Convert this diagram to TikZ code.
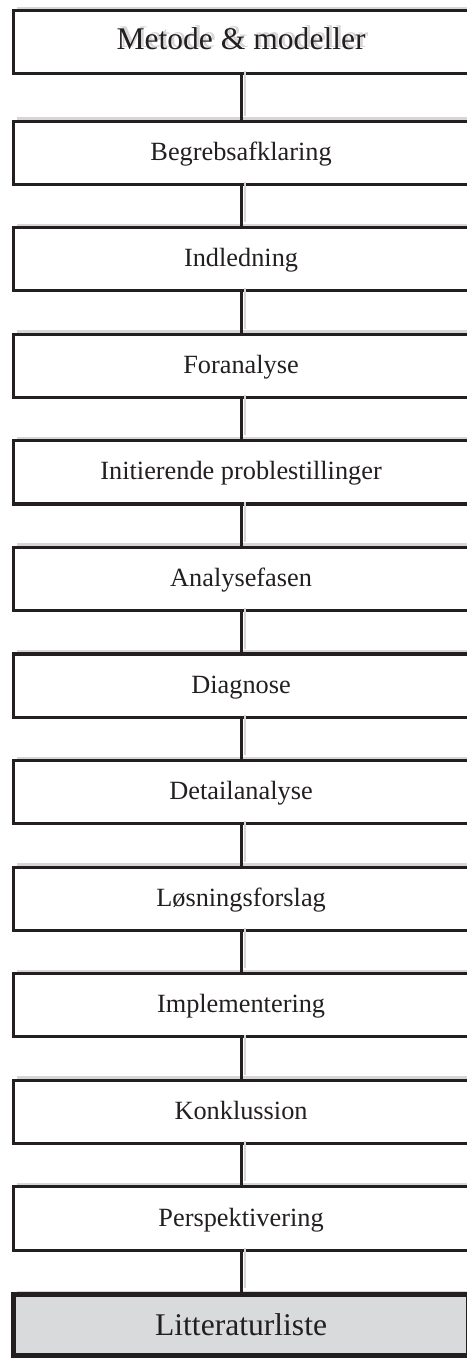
\documentclass[tikz,border=0pt]{standalone}
\usepackage{fontspec}
\setmainfont{Liberation Serif}
\usepackage{tikz}
\usetikzlibrary{positioning,shadows}

\definecolor{ink}{HTML}{231F20}
\definecolor{shade}{HTML}{D6D6D7}
\definecolor{litt}{HTML}{D9DADB}

% grey copy of a text, set a little up and right behind it
\newcommand{\ghost}[1]{\makebox[0pt][l]{\kern1.1pt\raisebox{0.8pt}{\textcolor{shade}{#1}}}#1}

\begin{document}
\begin{tikzpicture}[node distance=40.5pt,on grid,
    phase/.style={draw=ink,line width=1.15pt,fill=white,text=ink,
      minimum width=173pt,minimum height=24pt,inner sep=0pt,
      text height=.75em,text depth=.18em,
      drop shadow={shadow xshift=1.5pt,shadow yshift=1.5pt,fill=shade,opacity=1}},
    big/.style={font=\fontsize{12}{14}\selectfont},
    link/.style={draw=ink,line width=1.15pt,
      preaction={draw=shade,transform canvas={xshift=1.5pt,yshift=1.5pt}}}]
  \useasboundingbox (0,0) rectangle (177.1pt,-516pt);
  \node[phase,big] (metode) at (91.6pt,-16pt) {\ghost{Metode \& modeller}};
  \node[phase] (begreb) [below=42pt of metode] {Begrebsafklaring};
  \node[phase] (indl) [below=of begreb] {Indledning};
  \node[phase] (foran) [below=of indl] {Foranalyse};
  \node[phase] (initp) [below=of foran] {Initierende problestillinger};
  \node[phase] (analyse) [below=of initp] {Analysefasen};
  \node[phase] (diag) [below=of analyse] {Diagnose};
  \node[phase] (detail) [below=of diag] {Detailanalyse};
  \node[phase] (loesn) [below=of detail] {Løsningsforslag};
  \node[phase] (impl) [below=of loesn] {Implementering};
  \node[phase] (konkl) [below=of impl] {Konklussion};
  \node[phase] (persp) [below=of konkl] {Perspektivering};
  \node[phase,big,fill=litt,line width=2pt,minimum height=23pt,
    text height=.95em] (litt) [below=of persp] {Litteraturliste};
  \path
  (metode) edge[link] (begreb)
  (begreb) edge[link] (indl)
  (indl) edge[link] (foran)
  (foran) edge[link] (initp)
  (initp) edge[link] (analyse)
  (analyse) edge[link] (diag)
  (diag) edge[link] (detail)
  (detail) edge[link] (loesn)
  (loesn) edge[link] (impl)
  (impl) edge[link] (konkl)
  (konkl) edge[link] (persp)
  (persp) edge[link] (litt)
  ;
\end{tikzpicture}
\end{document}
